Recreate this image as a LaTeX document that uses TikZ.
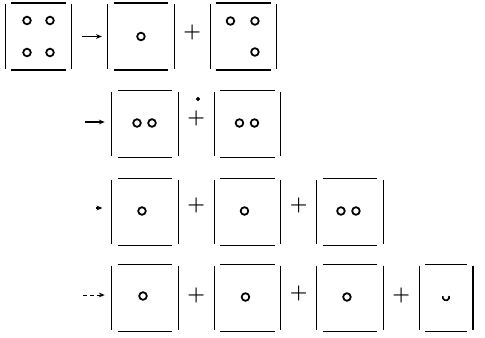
\documentclass[tikz,border=0pt]{standalone}
\usetikzlibrary{positioning,calc,arrows.meta}
\begin{document}
\begin{tikzpicture}[x=0.03cm,y=-0.03cm, node distance=1.08cm,
    box/.style={minimum width=1.98cm, minimum height=2cm, inner sep=0pt},
    pip/.style={circle, draw, line width=1.5pt, minimum size=6.5pt, inner sep=0pt},
    plus/.style={inner sep=0pt, font=\LARGE\bfseries},
    side/.style={line width=1pt},
    arr/.style={-{Stealth[length=5pt,width=4pt]}, line width=1pt}]
    \useasboundingbox (0,0) rectangle (485,337);
    % boxes
    \node[box] (A) at (38.5,36.5) {};
    \node[box, right=of A] (B) {};
    \node[box, right=of B] (C) {};
    \node[box] (D) at (145,124) {};
    \node[box, right=of D] (E) {};
    \node[box] (F) at (145,212) {};
    \node[box, right=of F] (G) {};
    \node[box, right=of G] (H) {};
    \node[box] (I) at (145,298) {};
    \node[box, right=of I] (J) {};
    \node[box, right=of J] (K) {};
    \node[box, minimum width=1.6cm, right=of K] (L) {};
    \foreach \b in {A,B,C,D,E,F,G,H,I,J,K,L} {
        \draw[side] ([yshift=-1pt]\b.north west) -- ([yshift=1pt]\b.south west);
        \draw[side] ([yshift=-1pt]\b.north east) -- ([yshift=1pt]\b.south east);
        \draw[side] ([xshift=5pt]\b.north west) -- ([xshift=-5pt]\b.north east);
        \draw[side] ([xshift=5pt]\b.south west) -- ([xshift=-5pt]\b.south east);
    }
    % pips
    \node[pip] at ($(A.center)+(-11.5,-16)$) {};
    \node[pip] at ($(A.center)+(11.5,-16)$) {};
    \node[pip] at ($(A.center)+(-11.5,16)$) {};
    \node[pip] at ($(A.center)+(11.5,16)$) {};
    \node[pip] at (B.center) {};
    \node[pip] at ($(C.center)+(-13,-15.5)$) {};
    \node[pip] at ($(C.center)+(11.5,-15.5)$) {};
    \node[pip] at ($(C.center)+(11.5,15.5)$) {};
    \node[pip] at ($(D.center)+(-8,-1)$) {};
    \node[pip] at ($(D.center)+(7,-1)$) {};
    \node[pip] at ($(E.center)+(-8,-1)$) {};
    \node[pip] at ($(E.center)+(7,-1)$) {};
    \node[pip] at ($(F.center)+(-3,-1)$) {};
    \node[pip] at ($(G.center)+(-3,-1)$) {};
    \node[pip] at ($(H.center)+(-9,-1)$) {};
    \node[pip] at ($(H.center)+(6,-1)$) {};
    \node[pip] at ($(I.center)+(-2,-2)$) {};
    \node[pip] at ($(J.center)+(-2,-1)$) {};
    \node[pip] at ($(K.center)+(-3,-1)$) {};
    \draw[line width=1.4pt] ($(L.center)+(3,-2)$) arc[start angle=20, end angle=-200, radius=2.8pt];
    % arrows
    \coordinate (s2) at (85,122);
    \coordinate (s3) at (96,208);
    \coordinate (s4) at (83,295);
    \draw[arr, shorten <=9pt, shorten >=5pt] (A.east) -- (B.west);
    \draw[arr, shorten >=6pt] (s2) -- (s2 -| D.west);
    \draw[arr, shorten >=8pt] (s3) -- (s3 -| F.west);
    \draw[arr, dashed, line width=0.8pt, shorten >=6pt] (s4) -- (s4 -| I.west);
    % plus signs
    \node[plus] (p1) at ($(B.east)!0.5!(C.west)+(0,-4)$) {+};
    \node[plus] (p2) at ($(D.east)!0.5!(E.west)+(0,-6)$) {+};
    \filldraw (198,99) circle (1.5pt);
    \node[plus] (p3) at ($(F.east)!0.5!(G.west)+(0,-7)$) {+};
    \node[plus] (p4) at ($(G.east)!0.5!(H.west)+(0,-7)$) {+};
    \node[plus] (p5) at ($(I.east)!0.5!(J.west)+(0,-3)$) {+};
    \node[plus] (p6) at ($(J.east)!0.5!(K.west)+(0,-5)$) {+};
    \node[plus] (p7) at ($(K.east)!0.5!(L.west)+(0,-3)$) {+};
\end{tikzpicture}
\end{document}
